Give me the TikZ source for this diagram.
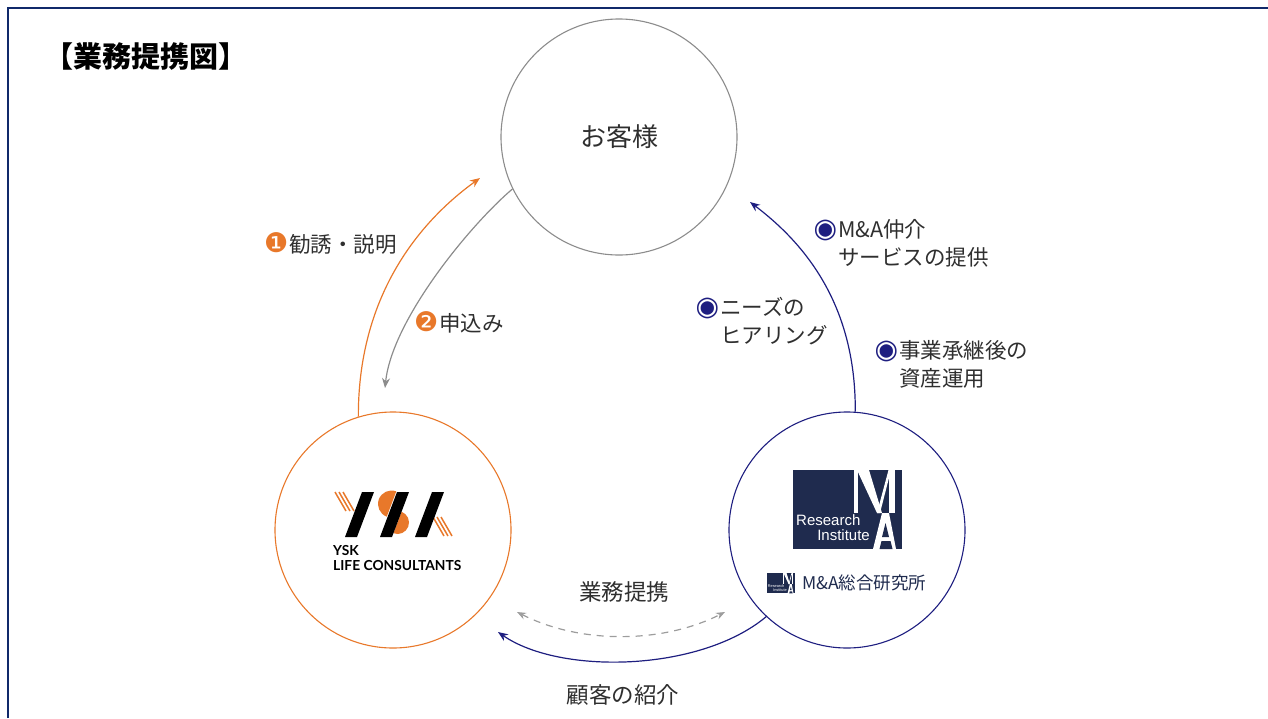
\documentclass[tikz,border=0pt]{standalone}
\usepackage{fontspec}
\usetikzlibrary{arrows.meta,positioning}
\newfontfamily\jp{Noto Sans CJK JP}
\newfontfamily\dv{DejaVu Sans}
\newfontfamily\lato{Lato}
\newfontfamily\lib{Liberation Sans}
\definecolor{ysko}{HTML}{E8782A}
\definecolor{manavy}{HTML}{1E1E80}
\definecolor{logonavy}{HTML}{1F2B4E}
\definecolor{framenavy}{HTML}{10296A}
\definecolor{txt}{HTML}{2F2F2F}
\definecolor{custgray}{HTML}{8C8C8C}
\newcommand{\circnum}[1]{{\dv\fontsize{27}{27}\selectfont\color{ysko}#1}\hspace{1pt}}
\newcommand{\bluedot}{\llap{\dv\fontsize{27}{27}\selectfont\color{manavy}◉\hspace{1pt}}}
\newcommand{\malogo}{%
  \fill[logonavy] (793,470) rectangle (902,549);
  \node[logotext, anchor=base west] at (796,525) {Research};
  \node[logotext, anchor=base east] at (870,540) {Institute};
  \fill[white] (854,470) rectangle (857.5,513);
  \fill[white] (857,470) -- (869,470) -- (882,513) -- (877,513) -- cycle;
  \fill[white] (877,513) -- (880,513) -- (891,470) -- (888.5,470) -- cycle;
  \fill[white] (889,470) rectangle (895,513);
  \fill[white] (882,513) -- (889,513) -- (896,549) -- (873,549) -- cycle;
  \fill[logonavy] (885.5,523) -- (889,537) -- (882,537) -- cycle;
  \fill[logonavy] (881.5,541) -- (890.5,541) -- (892.5,549) -- (879.5,549) -- cycle;
}

\begin{document}
\begin{tikzpicture}[x=1pt, y=-1pt,
  party/.style = {draw, circle, minimum size=236pt, line width=1.1pt, inner sep=0pt},
  lbl/.style = {font=\jp\fontsize{21.5}{28}\selectfont, text=txt, inner sep=0pt, align=left},
  flow/.style = {line width=1.2pt, -{Stealth[length=10pt, width=8pt]}},
  stripe/.style = {ysko, line width=1.5pt},
  logotext/.style = {text=white, inner sep=0pt, font=\lib\fontsize{15}{15}\selectfont}]
  \useasboundingbox (0,0) rectangle (1268,718);
  \draw[framenavy, line width=2.6pt] (8,718) -- (8,8) -- (1268,8);
  \node[anchor=west, inner sep=0pt, font=\jp\bfseries\fontsize{29}{29}\selectfont] (title) at (44,57) {【業務提携図】};

  \node[party, draw=custgray, font=\jp\fontsize{26}{26}\selectfont, text=txt] (cust) at (619,137) {お客様};
  \node[party, draw=ysko] (ysk) at (393,530) {};
  \node[party, draw=manavy] (ma) at (847,530) {};

  \coordinate (t1) at (480,178);
  \coordinate (t2) at (385,388);
  \coordinate (t3) at (750,202);
  \coordinate (t4) at (498,632);
  \coordinate (d1) at (517,612);
  \coordinate (d2) at (725,612);
  \draw[flow, ysko] (ysk.107) .. controls (358,300) and (415,225) .. (t1);
  \draw[flow, custgray] (cust.206) .. controls (470,225) and (392,320) .. (t2);
  \draw[flow, manavy] (ma.86) .. controls (856,300) and (800,240) .. (t3);
  \draw[flow, manavy] (ma.227) .. controls (700,672) and (560,675) .. (t4);
  \draw[custgray!85, line width=1.2pt, dash pattern=on 7pt off 6pt, {Stealth[length=9pt, width=7pt]}-{Stealth[length=9pt, width=7pt]}] (d1) .. controls (580,644) and (662,644) .. (d2);

  \node[lbl, anchor=west] (l1) at (264,243) {\circnum{❶}勧誘・説明};
  \node[lbl, anchor=west] (l2) at (414,322) {\circnum{❷}申込み};
  \node[lbl, anchor=north west] (r1) at (838,219) {\bluedot M\&A仲介\\サービスの提供};
  \node[lbl, anchor=north west] (r2) at (720,297) {\bluedot ニーズの\\ヒアリング};
  \node[lbl, anchor=north west] (r3) at (899,340) {\bluedot 事業承継後の\\資産運用};
  \node[lbl, font=\jp\fontsize{22.5}{22.5}\selectfont] (b1) at (624,592) {業務提携};
  \node[lbl, font=\jp\fontsize{22.5}{22.5}\selectfont] (b2) at (623,695) {顧客の紹介};

  \foreach \i in {0,1,2} {
    \draw[stripe] ({335+4*\i},492) -- ({346+4*\i},511);
    \draw[stripe] ({433+4*\i},517) -- ({444+4*\i},536);
  }
  \fill[ysko] (391.5,504) ++(290.7:13.5) arc[start angle=290.7, end angle=110.7, radius=13.5] -- cycle;
  \fill[ysko] (397.5,522.5) ++(110.7:11.5) arc[start angle=110.7, end angle=-69.3, radius=11.5] -- cycle;
  \fill (362,492) -- (374,492) -- (357,537) -- (345,537) -- cycle;
  \fill (397,492) -- (409,492) -- (392,537) -- (380,537) -- cycle;
  \fill (432,492) -- (444,492) -- (427,537) -- (415,537) -- cycle;
  \node[anchor=north west, inner sep=0pt, align=left, font=\lato\bfseries\fontsize{13.8}{15}\selectfont] (ysktext) at (333,545) {YSK\\LIFE CONSULTANTS};

  \malogo
  \begin{scope}[shift={(767,573)}, scale=0.257, shift={(-793,-470)}, transform shape]
    \malogo
  \end{scope}
  \node[lbl, anchor=west, font=\jp\fontsize{17.5}{17.5}\selectfont, text=logonavy] (maname) at (802,583) {M\&A総合研究所};
\end{tikzpicture}
\end{document}
